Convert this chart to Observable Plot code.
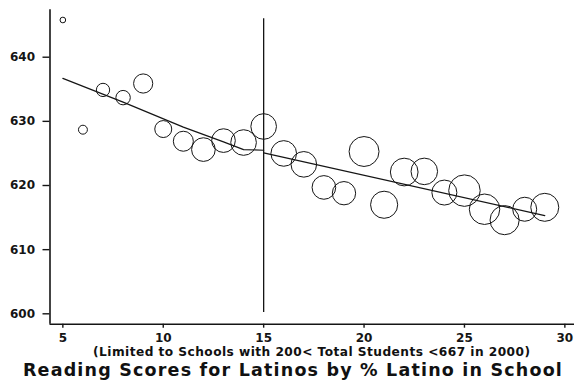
<!DOCTYPE html>
<html><head><meta charset="utf-8">
<script src="https://cdn.jsdelivr.net/npm/d3@7"></script>
<script src="https://cdn.jsdelivr.net/npm/@observablehq/plot@0.6"></script>
<style>
body{margin:0;background:#fff;}
#chart{width:574px;height:380px;position:relative;overflow:hidden;background:#fff;}
#chart svg{position:absolute;left:0;top:0;}
.sub{position:absolute;left:49.5px;width:524.5px;top:346px;line-height:12px;text-align:center;font-family:"DejaVu Sans";font-weight:bold;font-size:12.2px;letter-spacing:0.45px;color:#111;white-space:nowrap;}
.title{position:absolute;left:6px;width:574px;top:360.6px;line-height:18px;text-align:center;font-family:"DejaVu Sans";font-weight:bold;font-size:17.5px;letter-spacing:1.19px;color:#111;white-space:nowrap;}
</style></head><body><div id="chart"></div><script>
// % Latino in school (x), mean Latino reading score (y), number of schools (circle size)
const pctLatino    = [5, 6, 7, 8, 9, 10, 11, 12, 13, 14, 15, 16, 17, 18, 19, 20, 21, 22, 23, 24, 25, 26, 27, 28, 29];
const readingScore = [645.8, 628.7, 634.9, 633.7, 635.9, 628.8, 626.9, 625.6, 627.0, 626.7, 629.2, 625.0, 623.3, 619.7, 618.8, 625.3, 617.0, 622.1, 622.2, 618.9, 619.2, 616.3, 614.6, 616.3, 616.6];
const schoolCount  = [2, 5, 11, 13, 23, 18, 25, 35, 35, 41, 41, 41, 41, 35, 34, 56, 46, 48, 44, 39, 62, 58, 53, 36, 49];
// fitted lines, below and above the 15% cut-off
const fitLeftX  = [5, 8, 11, 13, 14, 15];
const fitLeftY  = [636.7, 633.0, 629.1, 626.8, 625.6, 625.5];
const fitRightX = [15, 29];
const fitRightY = [625.1, 615.3];
const cutoffX = [15];
const cutoffSpan = [600.2, 646.0];
const xTicks = [5, 10, 15, 20, 25, 30];
const yTicks = [600, 610, 620, 630, 640];
const xDomain = [4.36, 30.48];
const yDomain = [598.38, 647.39];
const subtitleText = "(Limited to Schools with 200< Total Students <667 in 2000)";
const titleText = "Reading Scores for Latinos by % Latino in School";

const points = pctLatino.map((x, i) => ({x, y: readingScore[i], n: schoolCount[i]}));
const leftFit = fitLeftX.map((x, i) => ({x, y: fitLeftY[i]}));
const rightFit = fitRightX.map((x, i) => ({x, y: fitRightY[i]}));

const ink = "#151515";
const plot = Plot.plot({
  width: 574, height: 345,
  marginLeft: 49.5, marginRight: 0, marginTop: 9.3, marginBottom: 21.3,
  style: {fontFamily: "DejaVu Sans", fontWeight: "bold", fontSize: "12px", color: ink, background: "#fff", overflow: "visible"},
  x: {domain: xDomain},
  y: {domain: yDomain},
  r: {type: "sqrt", domain: [0, 64], range: [0, 16]},
  marks: [
    Plot.ruleX([xDomain[0]], {stroke: ink, strokeWidth: 1.6}),
    Plot.ruleY([yDomain[0]], {stroke: ink, strokeWidth: 1.6}),
    Plot.axisY({ticks: yTicks, tickSize: 7, tickPadding: 8, label: null, strokeWidth: 1.4, stroke: ink, fill: ink, fontWeight: "bold", fontSize: 12}),
    Plot.axisX({ticks: xTicks, tickSize: 4, tickPadding: 5, label: null, strokeWidth: 1.4, stroke: ink, fill: ink, fontWeight: "bold", fontSize: 12}),
    Plot.ruleX(cutoffX, {y1: cutoffSpan[0], y2: cutoffSpan[1], stroke: ink, strokeWidth: 1.3}),
    Plot.line(leftFit, {x: "x", y: "y", stroke: ink, strokeWidth: 1.2}),
    Plot.line(rightFit, {x: "x", y: "y", stroke: ink, strokeWidth: 1.2}),
    Plot.dot(points, {x: "x", y: "y", r: "n", stroke: ink, strokeWidth: 1, fill: "none"})
  ]
});
const chart = document.getElementById("chart");
chart.appendChild(plot);
const sub = document.createElement("div"); sub.className = "sub"; sub.textContent = subtitleText; chart.appendChild(sub);
const ttl = document.createElement("div"); ttl.className = "title"; ttl.textContent = titleText; chart.appendChild(ttl);
</script></body></html>
